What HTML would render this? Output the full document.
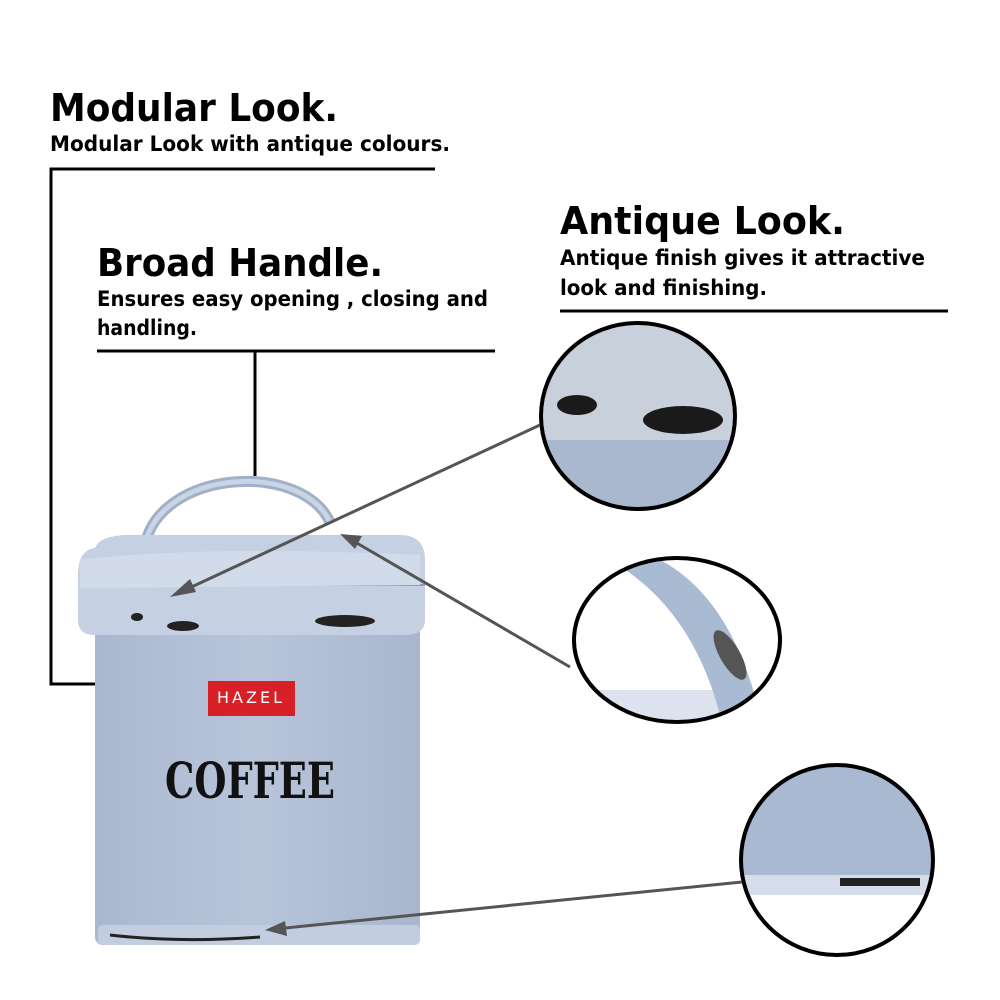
<!DOCTYPE html>
<html><head><meta charset="utf-8"><style>html,body{margin:0;padding:0;background:#fff}svg{display:block}</style></head>
<body>
<svg width="1000" height="1000" viewBox="0 0 1000 1000" xmlns="http://www.w3.org/2000/svg" font-family="'DejaVu Sans','Liberation Sans',sans-serif" font-weight="bold">
<defs>
<linearGradient id="body" x1="0" x2="1" y1="0" y2="0"><stop offset="0" stop-color="#aab8cf"/><stop offset="0.5" stop-color="#b8c4da"/><stop offset="1" stop-color="#a9b6cd"/></linearGradient>
<clipPath id="c1"><ellipse cx="638" cy="416" rx="97" ry="93"/></clipPath>
<clipPath id="c2"><ellipse cx="677" cy="640" rx="103" ry="82"/></clipPath>
<clipPath id="c3"><ellipse cx="837" cy="860" rx="96" ry="95"/></clipPath>
</defs>
<text x="50" y="121" font-size="38" textLength="288" lengthAdjust="spacingAndGlyphs">Modular Look.</text>
<text x="50" y="151" font-size="21" textLength="400" lengthAdjust="spacingAndGlyphs">Modular Look with antique colours.</text>
<text x="97" y="276" font-size="38" textLength="286" lengthAdjust="spacingAndGlyphs">Broad Handle.</text>
<text x="97" y="306" font-size="21" textLength="391" lengthAdjust="spacingAndGlyphs">Ensures easy opening , closing and</text>
<text x="97" y="335" font-size="21" textLength="100" lengthAdjust="spacingAndGlyphs">handling.</text>
<text x="560" y="234" font-size="38" textLength="285" lengthAdjust="spacingAndGlyphs">Antique Look.</text>
<text x="560" y="265" font-size="21" textLength="365" lengthAdjust="spacingAndGlyphs">Antique finish gives it attractive</text>
<text x="560" y="295" font-size="21" textLength="207" lengthAdjust="spacingAndGlyphs">look and finishing.</text>
<g stroke="#000" stroke-width="3" fill="none">
<polyline points="435,169 51,169 51,684 108,684"/>
<line x1="97" y1="351" x2="495" y2="351"/>
<line x1="255" y1="351" x2="255" y2="476"/>
<line x1="560" y1="311" x2="948" y2="311"/>
</g>
<path d="M145,545 C160,470 300,460 330,522" stroke="#9fb0c8" stroke-width="11" fill="none"/>
<path d="M145,545 C160,470 300,460 330,522" stroke="#c9d4e4" stroke-width="5" fill="none"/>
<rect x="95" y="620" width="325" height="325" rx="8" fill="url(#body)"/>
<rect x="98" y="925" width="322" height="20" rx="5" fill="#c3cde0"/>
<path d="M110,935 q70,8 150,2" stroke="#222" stroke-width="3" fill="none"/>
<path d="M95,548 Q100,535 130,535 L400,535 Q425,535 425,560 L425,620 Q425,635 405,635 L95,635 Q78,635 78,620 L78,575 Q78,550 95,548 Z" fill="#c5d0e2"/>
<path d="M82,585 L425,585" stroke="#8e9cb4" stroke-width="2"/>
<path d="M80,560 Q200,545 420,555 L420,585 L80,588 Z" fill="#d2dbea"/>
<ellipse cx="137" cy="617" rx="6" ry="4" fill="#222"/>
<ellipse cx="183" cy="626" rx="16" ry="5" fill="#222"/>
<ellipse cx="345" cy="621" rx="30" ry="6" fill="#222"/>
<rect x="208" y="681" width="87" height="35" fill="#d82027"/>
<text x="251" y="703" font-size="16" fill="#fff" font-weight="normal" text-anchor="middle" letter-spacing="3">HAZEL</text>
<text x="250" y="798" font-size="50" fill="#111" text-anchor="middle" font-family="'DejaVu Serif','Liberation Serif',serif" textLength="170" lengthAdjust="spacingAndGlyphs">COFFEE</text>
<g clip-path="url(#c1)"><rect x="530" y="315" width="220" height="125" fill="#c8d0dc"/><rect x="530" y="440" width="220" height="80" fill="#aab8cf"/>
<ellipse cx="577" cy="405" rx="20" ry="10" fill="#1a1a1a"/><ellipse cx="683" cy="420" rx="40" ry="14" fill="#1a1a1a"/></g>
<ellipse cx="638" cy="416" rx="97" ry="93" fill="none" stroke="#000" stroke-width="4"/>
<g clip-path="url(#c2)"><rect x="570" y="555" width="220" height="170" fill="#fff"/><rect x="570" y="690" width="150" height="40" fill="#dce3ee"/>
<path d="M600,555 Q690,600 720,715 L760,715 Q730,590 650,555 Z" fill="#a9bad3"/>
<ellipse cx="730" cy="655" rx="10" ry="28" fill="#555" transform="rotate(-30 730 655)"/></g>
<ellipse cx="677" cy="640" rx="103" ry="82" fill="none" stroke="#000" stroke-width="4"/>
<g clip-path="url(#c3)"><rect x="735" y="763" width="210" height="112" fill="#a9b9d1"/><rect x="735" y="875" width="210" height="20" fill="#d5ddea"/><rect x="735" y="895" width="210" height="70" fill="#fff"/>
<rect x="840" y="878" width="80" height="8" fill="#222"/></g>
<ellipse cx="837" cy="860" rx="96" ry="95" fill="none" stroke="#000" stroke-width="4"/>
<g stroke="#555" stroke-width="3" fill="#555">
<line x1="540" y1="425" x2="185" y2="590"/>
<polygon points="170,597 190,579 196,592" stroke="none"/>
<line x1="570" y1="667" x2="355" y2="542"/>
<polygon points="340,534 362,536 355,549" stroke="none"/>
<line x1="742" y1="882" x2="285" y2="928"/>
<polygon points="265,930 285,921 287,936" stroke="none"/>
</g>
</svg>
</body></html>
